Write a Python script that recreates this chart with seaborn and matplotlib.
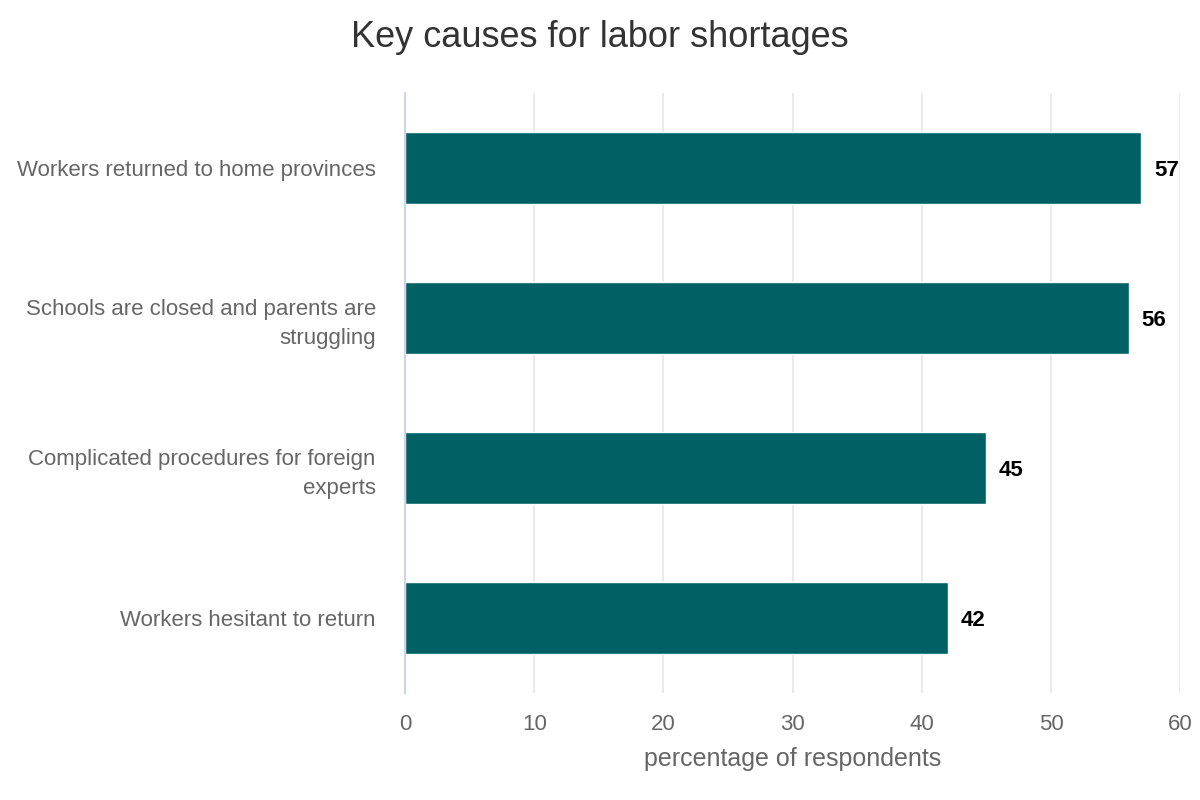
import matplotlib
matplotlib.use("Agg")
import matplotlib.pyplot as plt
import pandas as pd
import seaborn as sns

CAUSES = [
    "Workers returned to home provinces",
    "Schools are closed and parents are\nstruggling",
    "Complicated procedures for foreign\nexperts",
    "Workers hesitant to return",
]
PERCENT = [57, 56, 45, 42]
X_TICKS = [0, 10, 20, 30, 40, 50, 60]

BAR_COLOR = "#006064"
TEXT_GREY = "#666666"


def main() -> None:
    sns.set_theme(style="white")
    plt.rcParams["font.family"] = ["Liberation Sans", "DejaVu Sans"]

    data = pd.DataFrame({"cause": CAUSES, "percent": PERCENT})

    fig = plt.figure(figsize=(12, 8), dpi=100)
    ax = fig.add_axes([0.3375, 0.134, 0.646, 0.75])
    sns.barplot(data=data, x="percent", y="cause", color=BAR_COLOR, width=0.48,
                saturation=1, ax=ax, zorder=3)

    ax.set_xlim(0, 60)
    ax.set_ylim(3.5, -0.5)
    ax.set_xticks(X_TICKS)
    ax.grid(axis="x", color="#e6e6e6", linewidth=1.2, zorder=0)
    for side in ["top", "right", "bottom"]:
        ax.spines[side].set_visible(False)
    ax.spines["left"].set_color("#ccd6eb")
    ax.spines["left"].set_linewidth(1.5)
    ax.spines["left"].set_zorder(4)

    ax.tick_params(axis="x", length=0, pad=15, labelsize=16, labelcolor=TEXT_GREY)
    ax.tick_params(axis="y", length=0, pad=21, labelsize=16, labelcolor=TEXT_GREY)
    for label in ax.get_yticklabels():
        label.set_horizontalalignment("right")
        label.set_multialignment("right")
        label.set_linespacing(1.5)

    ax.set_xlabel("percentage of respondents", fontsize=18, color=TEXT_GREY, labelpad=9)
    ax.set_ylabel("")

    for container in ax.containers:
        labels = ax.bar_label(container, padding=9, fontsize=16, fontweight="bold", color="black")
        for text in labels:
            text.set_verticalalignment("center_baseline")

    fig.suptitle("Key causes for labor shortages", fontsize=26, color="#333333", y=0.975)
    fig.savefig("out.png", dpi=100)
    plt.close(fig)


if __name__ == "__main__":
    main()
